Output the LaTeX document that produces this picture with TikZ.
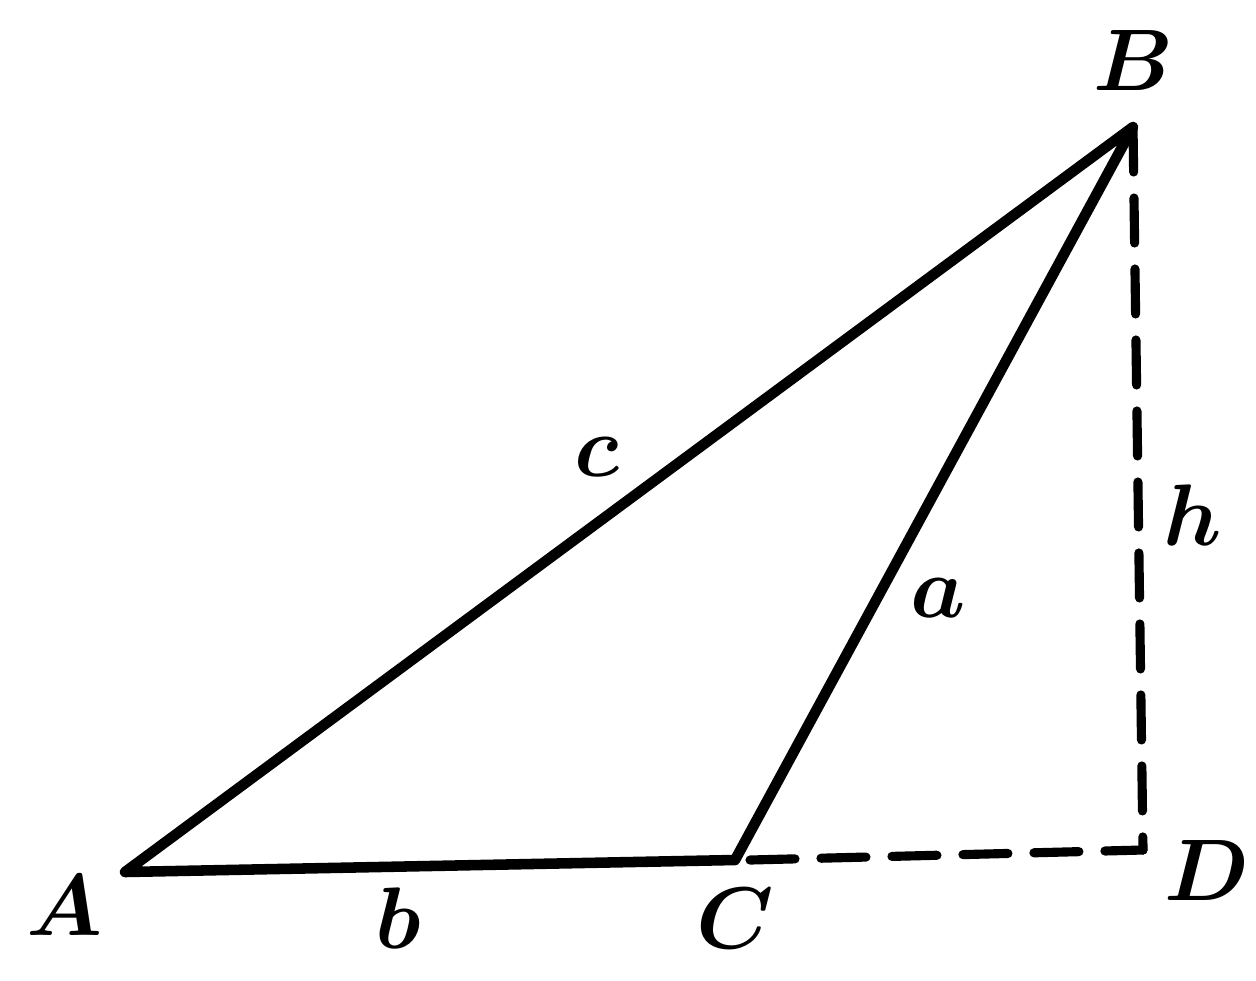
\documentclass[tikz,border=0pt]{standalone}
\usepackage{bm}
\tikzset{
  side/.style={line width=3pt, line join=round, line cap=round},
  aux/.style={line width=2.6pt, line cap=round, dash pattern=on 0.45cm off 0.26cm},
  lbl/.style={inner sep=0pt, font=\fontsize{26}{30}\selectfont}
}
\begin{document}
\begin{tikzpicture}
    \useasboundingbox (0,0) rectangle (12.56,9.80);
    % Vertices
    \coordinate (A) at (1.25,1.08);
    \coordinate (C) at (7.35,1.20);
    \coordinate (B) at (11.33,8.53);
    \coordinate (D) at (11.43,1.30);
    % Labels
    \node[lbl] (lA) at (0.65,0.75) {$\bm{A}$};
    \node[lbl] (lB) at (11.33,9.20) {$\bm{B}$};
    \node[lbl] (lC) at (7.35,0.62) {$\bm{C}$};
    \node[lbl] (lD) at (12.07,1.10) {$\bm{D}$};
    \node[lbl] (lb) at (3.98,0.62) {$\bm{b}$};
    \node[lbl] (lc) at (5.97,5.23) {$\bm{c}$};
    \node[lbl] (la) at (9.38,3.82) {$\bm{a}$};
    \node[lbl] (lh) at (11.93,4.65) {$\bm{h}$};
    % Sides
    \draw[side] (A) -- (B) -- (C) -- cycle;
    % Height and extension
    \draw[aux] (B) -- (D);
    \draw[aux] ([xshift=0.15cm]C) -- (D);
\end{tikzpicture}
\end{document}
